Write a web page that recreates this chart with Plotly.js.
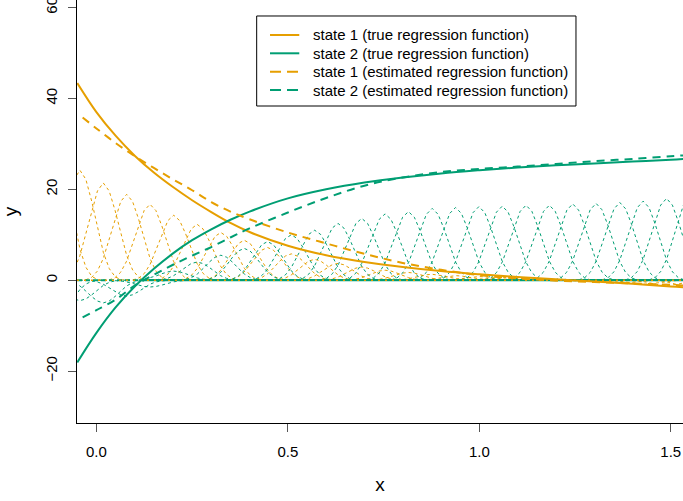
<!DOCTYPE html>
<html>
<head>
<meta charset="utf-8">
<script src="https://cdn.plot.ly/plotly-3.0.1.min.js"></script>
<style>html,body{margin:0;padding:0;background:#fff;}#chart{width:683px;height:501px;}</style>
</head>
<body>
<div id="chart"></div>
<script>
// ---- data ----
const xGrid = [-0.05, 0.0, 0.05, 0.1, 0.15, 0.2, 0.25, 0.3, 0.35, 0.4, 0.5, 0.6, 0.7, 0.8, 0.9, 1.0, 1.1, 1.2, 1.3, 1.4, 1.5, 1.54];
const state1True = [43.4, 37.0, 31.8, 27.4, 23.7, 20.5, 17.6, 15.0, 12.6, 10.6, 7.6, 5.5, 4.0, 2.9, 2.0, 1.3, 0.7, 0.2, -0.3, -0.8, -1.4, -1.6];
const state2True = [-18.1, -11.6, -6.0, -1.4, 2.5, 5.9, 8.8, 11.2, 13.3, 15.1, 18.0, 20.0, 21.5, 22.6, 23.5, 24.2, 24.8, 25.3, 25.7, 26.1, 26.5, 26.7];

const xEst = [-0.036, 0.0, 0.05, 0.1, 0.15, 0.2, 0.25, 0.3, 0.35, 0.4, 0.5, 0.6, 0.7, 0.8, 0.9, 1.0, 1.1, 1.2, 1.3, 1.4, 1.5, 1.54];
const state1Est = [35.8, 33.4, 30.2, 27.3, 24.7, 22.2, 19.8, 17.2, 15.1, 13.4, 10.5, 8.1, 5.8, 3.8, 2.3, 1.1, 0.4, -0.1, -0.4, -0.7, -1.0, -1.2];
const state2Est = [-8.2, -6.6, -4.3, -1.2, 1.2, 3.4, 5.4, 7.3, 9.4, 11.4, 14.9, 18.1, 20.8, 22.6, 23.8, 24.5, 25.0, 25.6, 26.2, 26.7, 27.3, 27.5];

// scaled basis functions (dotted bumps): centres and peak heights
const bumpCenters = [-0.104, -0.043, 0.018, 0.079, 0.140, 0.202, 0.263, 0.325, 0.386, 0.447, 0.509, 0.570, 0.631, 0.693, 0.754, 0.815, 0.877, 0.938, 0.999, 1.060, 1.122, 1.183, 1.244, 1.305, 1.367, 1.428, 1.489, 1.551];
const bumpSpacing = 0.0613;
const state1Peaks = [27.0, 24.2, 21.4, 18.9, 16.7, 14.3, 12.3, 10.5, 8.8, 7.2, 5.8, 4.6, 3.7, 2.9, 2.2, 1.7, 1.3, 1.0, 0.8, 0.6, 0.4, 0.2, 0.0, -0.3, -0.6, -0.9, -1.2, -1.5];
const state2Peaks = [-8.0, -4.5, -5.0, -3.5, -1.5, 2.0, 4.0, 5.5, 7.0, 8.5, 10.0, 11.0, 12.5, 13.6, 14.6, 15.1, 15.8, 16.0, 16.2, 16.3, 16.5, 16.5, 16.8, 16.9, 17.1, 17.4, 18.0, 18.8];
// relative shape of one bump at offsets of quarter spacings
const bumpOffsets = [-2, -1.75, -1.5, -1.25, -1, -0.75, -0.5, -0.25, 0, 0.25, 0.5, 0.75, 1, 1.25, 1.5, 1.75, 2];
const bumpShape = [0, 0.0039, 0.031, 0.105, 0.25, 0.473, 0.719, 0.918, 1, 0.918, 0.719, 0.473, 0.25, 0.105, 0.031, 0.0039, 0];

const xTicks = [0, 0.5, 1, 1.5];
const xTickLabels = ['0.0', '0.5', '1.0', '1.5'];
const yTicks = [-20, 0, 20, 40, 60];
const yTickLabels = ['\u221220', '0', '20', '40', '60'];
const legendNames = ['state 1 (true regression function)', 'state 2 (true regression function)',
  'state 1 (estimated regression function)', 'state 2 (estimated regression function)'];

const ORANGE = '#E69F00', GREEN = '#009E73';
const xRange = [-0.0507, 1.532];
const yRange = [-31.43, 61.67];
const EST_DASH = '8px,6px';

const traces = [];
function addBumps(peaks, color) {
  peaks.forEach((p, i) => {
    traces.push({
      x: bumpOffsets.map(o => bumpCenters[i] + o * bumpSpacing),
      y: bumpShape.map(s => s * p),
      mode: 'lines', type: 'scatter', showlegend: false, hoverinfo: 'skip',
      line: {color: color, width: 1, dash: '3px,3px'}
    });
  });
}
addBumps(state1Peaks, ORANGE);
addBumps(state2Peaks, GREEN);
// zero parts of the basis functions
traces.push({x: [xRange[0], 0.12], y: [0, 0], mode: 'lines', showlegend: false, hoverinfo: 'skip', line: {color: GREEN, width: 2, dash: '5px,3px'}});
traces.push({x: [0.12, xRange[1]], y: [0, 0], mode: 'lines', showlegend: false, hoverinfo: 'skip', line: {color: GREEN, width: 2.2}});
traces.push({x: xRange, y: [0, 0], mode: 'lines', showlegend: false, hoverinfo: 'skip', line: {color: ORANGE, width: 1.5, dash: '2px,5px'}});

const colors = [ORANGE, GREEN, ORANGE, GREEN];
const dashes = ['solid', 'solid', EST_DASH, EST_DASH];
traces.push({x: xGrid, y: state1True, name: legendNames[0], mode: 'lines', showlegend: false, line: {color: ORANGE, width: 2, shape: 'spline'}});
traces.push({x: xGrid, y: state2True, name: legendNames[1], mode: 'lines', showlegend: false, line: {color: GREEN, width: 2, shape: 'spline'}});
traces.push({x: xEst, y: state1Est, name: legendNames[2], mode: 'lines', showlegend: false, line: {color: ORANGE, width: 2, dash: EST_DASH, shape: 'spline'}});
traces.push({x: xEst, y: state2Est, name: legendNames[3], mode: 'lines', showlegend: false, line: {color: GREEN, width: 2, dash: EST_DASH, shape: 'spline'}});

// legend box drawn in paper coordinates (R-style legend)
const FONT = 'Liberation Sans, Arial, Helvetica, sans-serif';
const L = {x0: 0.2965, x1: 0.8234, y0: 0.7494, y1: 0.9622, sx0: 0.3185, sx1: 0.3668, tx: 0.3861,
           rows: [0.9173, 0.8740, 0.8305, 0.7872]};
const shapes = [{type: 'rect', xref: 'paper', yref: 'paper', x0: L.x0, x1: L.x1, y0: L.y0, y1: L.y1,
                 line: {color: '#000', width: 1}, fillcolor: '#fff', layer: 'above'}];
const annotations = [];
legendNames.forEach((nm, i) => {
  shapes.push({type: 'line', xref: 'paper', yref: 'paper', x0: L.sx0, x1: L.sx1, y0: L.rows[i], y1: L.rows[i],
               line: {color: colors[i], width: 2, dash: i < 2 ? 'solid' : '11px,6px'}, layer: 'above'});
  annotations.push({xref: 'paper', yref: 'paper', x: L.tx, y: L.rows[i], xanchor: 'left', yanchor: 'middle',
                    text: nm, showarrow: false, font: {family: FONT, size: 15, color: '#000'}});
});

const layout = {
  width: 683, height: 501,
  margin: {l: 77, r: 0, t: 0, b: 78, pad: 0},
  paper_bgcolor: '#fff', plot_bgcolor: '#fff',
  font: {family: FONT, size: 15, color: '#000'},
  showlegend: false,
  shapes: shapes, annotations: annotations,
  xaxis: {range: xRange, tickvals: xTicks, ticktext: xTickLabels, ticks: 'outside', ticklen: 8,
          tickcolor: '#555', tickwidth: 1, showline: true, linecolor: '#000', linewidth: 1.3,
          showgrid: false, zeroline: false, tickfont: {size: 15}, ticklabelstandoff: 7,
          title: {text: 'x', font: {size: 19}, standoff: 18}},
  yaxis: {range: yRange, tickvals: yTicks, ticktext: yTickLabels, ticks: 'outside', ticklen: 8,
          tickcolor: '#555', tickwidth: 1, showline: true, linecolor: '#000', linewidth: 1.3,
          showgrid: false, zeroline: false, tickfont: {size: 15}, tickangle: -90, ticklabelstandoff: 5,
          ticklabeloverflow: 'allow',
          title: {text: 'y', font: {size: 19}, standoff: 20}}
};
Plotly.newPlot('chart', traces, layout, {staticPlot: true, displayModeBar: false});
</script>
</body>
</html>
